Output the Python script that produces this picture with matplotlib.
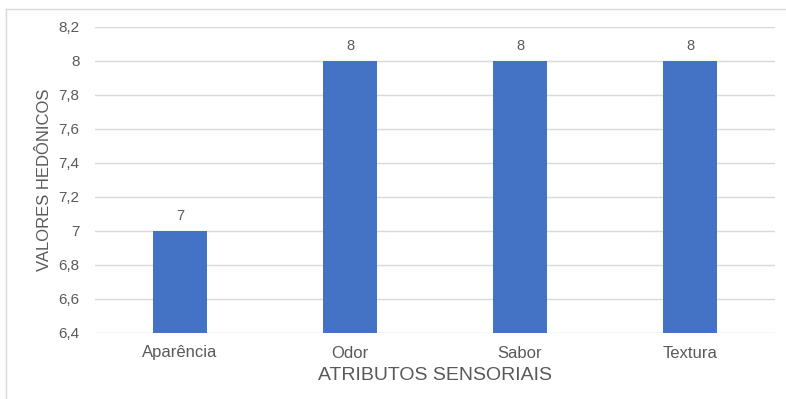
import matplotlib
matplotlib.use("Agg")
import matplotlib.pyplot as plt
from matplotlib.lines import Line2D

# === Dados ===
atributos = ["Aparência", "Odor", "Sabor", "Textura"]
valores = [7, 8, 8, 8]
yticks = [6.4, 6.6, 6.8, 7.0, 7.2, 7.4, 7.6, 7.8, 8.0, 8.2]

plt.rcParams['font.family'] = ['Liberation Sans', 'DejaVu Sans']
cinza = "#595959"

fig = plt.figure(figsize=(7.86, 3.99), dpi=100)
ax = fig.add_axes([95 / 786, 1 - 333 / 399, 680 / 786, 306 / 399])

x = range(len(atributos))
ax.bar(x, valores, width=0.32, color="#4472C4", zorder=3)
for xi, v in zip(x, valores):
    ax.text(xi, v + 0.045, f"{v}", ha="center", va="bottom", fontsize=10.5, color=cinza)

ax.set_xlim(-0.5, len(atributos) - 0.5)
ax.set_ylim(6.4, 8.2)
ax.set_yticks(yticks)
ax.set_yticklabels([f"{t:g}".replace(".", ",") for t in yticks])
ax.set_xticks(list(x))
ax.set_xticklabels(atributos)
ax.tick_params(axis="both", length=0, labelsize=11, colors=cinza)
ax.tick_params(axis="x", labelsize=12, pad=9)
ax.tick_params(axis="y", pad=11)
ax.grid(axis="y", color="#D9D9D9", linewidth=1, zorder=0)
for s in ax.spines.values():
    s.set_visible(False)

ax.set_xlabel("ATRIBUTOS SENSORIAIS", fontsize=14, color=cinza, labelpad=5)
ax.set_ylabel("VALORES HEDÔNICOS", fontsize=12, color=cinza, labelpad=5)

# moldura (somente topo e esquerda visíveis no recorte)
fig.add_artist(Line2D([6.5 / 786, 6.5 / 786], [0, 1 - 9 / 399], color="#D9D9D9", lw=1))
fig.add_artist(Line2D([6.5 / 786, 1], [1 - 9 / 399, 1 - 9 / 399], color="#D9D9D9", lw=1))

fig.savefig("out.png", dpi=100)
